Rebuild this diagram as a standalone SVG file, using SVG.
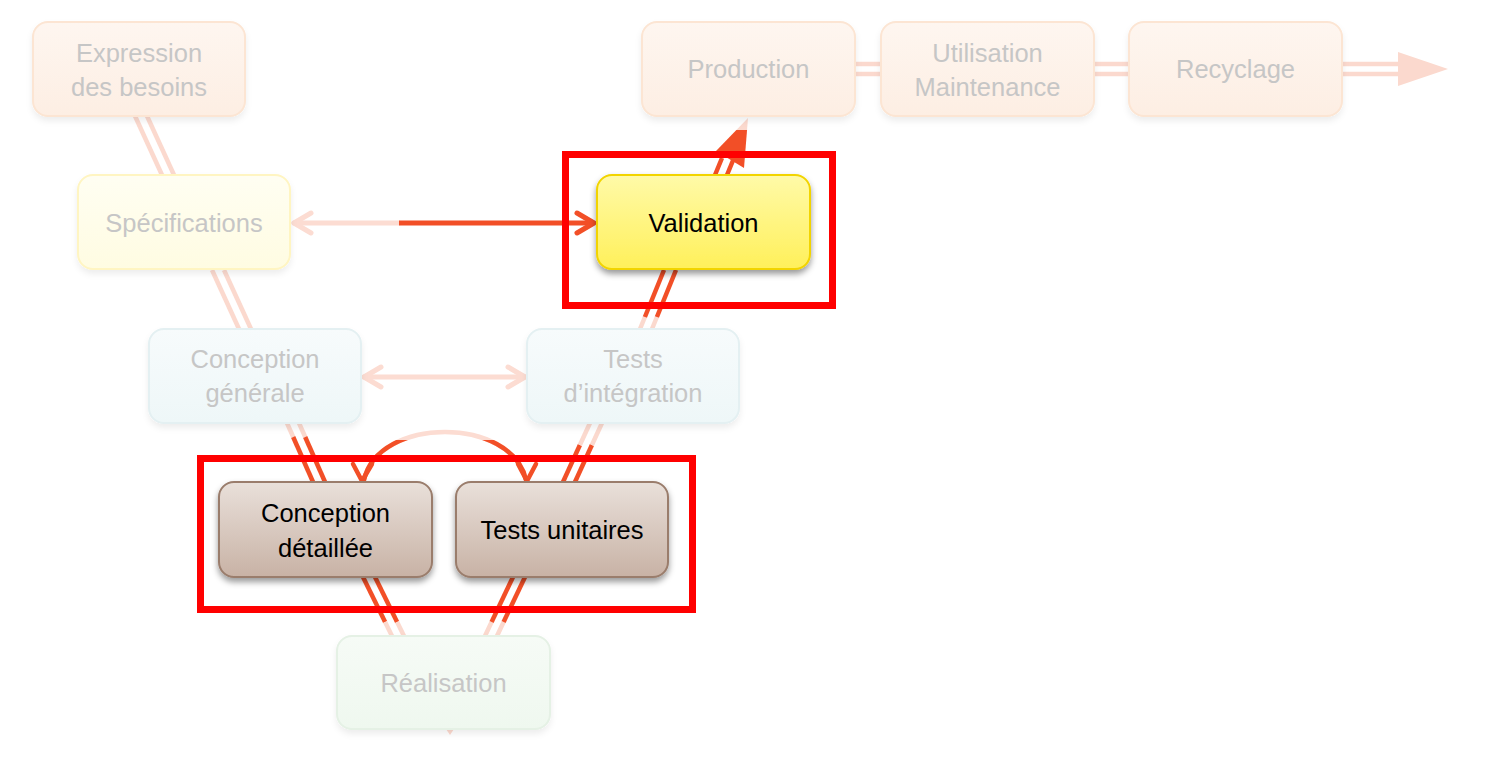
<svg xmlns="http://www.w3.org/2000/svg" width="1502" height="780" viewBox="0 0 1502 780">
<defs>
<linearGradient id="gPeach" x1="0" y1="0" x2="0" y2="1"><stop offset="0" stop-color="#fef6f0"/><stop offset="1" stop-color="#fdeee3"/></linearGradient>
<linearGradient id="gYelF" x1="0" y1="0" x2="0" y2="1"><stop offset="0" stop-color="#fffef2"/><stop offset="1" stop-color="#fffce2"/></linearGradient>
<linearGradient id="gBlue" x1="0" y1="0" x2="0" y2="1"><stop offset="0" stop-color="#f7fbfc"/><stop offset="1" stop-color="#eef7f8"/></linearGradient>
<linearGradient id="gGreen" x1="0" y1="0" x2="0" y2="1"><stop offset="0" stop-color="#f6fbf6"/><stop offset="1" stop-color="#eff8ef"/></linearGradient>
<linearGradient id="gYel" x1="0" y1="0" x2="0" y2="1"><stop offset="0" stop-color="#fffaa8"/><stop offset="1" stop-color="#fff05a"/></linearGradient>
<linearGradient id="gBrown" x1="0" y1="0" x2="0" y2="1"><stop offset="0" stop-color="#e9e0da"/><stop offset="1" stop-color="#c8b2a5"/></linearGradient>
<linearGradient id="gArrow" gradientUnits="userSpaceOnUse" x1="0" y1="118" x2="0" y2="168"><stop offset="0.24" stop-color="#fbd9ce"/><stop offset="0.24" stop-color="#f24f27"/></linearGradient>
<filter id="shF" x="-10%" y="-10%" width="120%" height="140%"><feDropShadow dx="0" dy="4" stdDeviation="3" flood-color="#000" flood-opacity="0.07"/></filter>
<filter id="shD" x="-10%" y="-10%" width="120%" height="140%"><feDropShadow dx="0" dy="4" stdDeviation="3" flood-color="#000" flood-opacity="0.4"/></filter>
<clipPath id="clipDark"><rect x="0" y="440" width="1502" height="60"/></clipPath>
</defs>
<style>
.lt{stroke:#fbd9ce;stroke-width:4.5;fill:none}
.dk{stroke:#f24f27;stroke-width:4.5;fill:none}
.ltc{stroke:#fcdcd2;stroke-width:5;fill:none;stroke-linecap:round;stroke-linejoin:round}
.dkc{stroke:#f24f27;stroke-width:5;fill:none;stroke-linecap:round;stroke-linejoin:round}
.nf{stroke-width:2;filter:url(#shF)}
.nd{stroke-width:2;filter:url(#shD)}
.tf{font-family:"Liberation Sans",Arial,sans-serif;font-size:25.5px;fill:#c6c6c6;text-anchor:middle}
.td{font-family:"Liberation Sans",Arial,sans-serif;font-size:25.5px;fill:#000;text-anchor:middle}
.hl{fill:none;stroke:#ff0000;stroke-width:7}
</style>

<g id="connectors">
<line class="lt" x1="135" y1="116" x2="162" y2="175"/><line class="lt" x1="147" y1="116" x2="174" y2="175"/>
<line class="lt" x1="212" y1="270" x2="239" y2="329"/><line class="lt" x1="224" y1="270" x2="251" y2="329"/>
<line class="lt" x1="287" y1="423" x2="293.2" y2="437"/><line class="lt" x1="299" y1="423" x2="305.2" y2="437"/>
<line class="dk" x1="293.2" y1="437" x2="313" y2="482"/><line class="dk" x1="305.2" y1="437" x2="325" y2="482"/>
<line class="dk" x1="363" y1="577" x2="385.1" y2="622"/><line class="dk" x1="375" y1="577" x2="397.1" y2="622"/>
<line class="lt" x1="385.1" y1="622" x2="392" y2="636"/><line class="lt" x1="397.1" y1="622" x2="404" y2="636"/>
<line class="lt" x1="485" y1="636" x2="491.6" y2="622"/><line class="lt" x1="497" y1="636" x2="503.6" y2="622"/>
<line class="dk" x1="491.6" y1="622" x2="513" y2="577"/><line class="dk" x1="503.6" y1="622" x2="525" y2="577"/>
<line class="dk" x1="563" y1="482" x2="579.9" y2="445"/><line class="dk" x1="575" y1="482" x2="591.9" y2="445"/>
<line class="lt" x1="579.9" y1="445" x2="590" y2="423"/><line class="lt" x1="591.9" y1="445" x2="602" y2="423"/>
<line class="lt" x1="640" y1="329" x2="644.9" y2="317"/><line class="lt" x1="652" y1="329" x2="656.9" y2="317"/>
<line class="dk" x1="644.9" y1="317" x2="664" y2="270"/><line class="dk" x1="656.9" y1="317" x2="676" y2="270"/>
<line class="dk" x1="715" y1="175" x2="722" y2="158"/><line class="dk" x1="727" y1="175" x2="734" y2="158"/>
<polygon points="748,118 744,168 716,151" fill="url(#gArrow)"/>
<polygon points="446,729 454,729 450,735" fill="#fcd9ce"/>
<line class="lt" x1="855" y1="64" x2="881" y2="64"/><line class="lt" x1="855" y1="74" x2="881" y2="74"/>
<line class="lt" x1="1094" y1="64" x2="1129" y2="64"/><line class="lt" x1="1094" y1="74" x2="1129" y2="74"/>
<line class="lt" x1="1342" y1="64" x2="1400" y2="64"/><line class="lt" x1="1342" y1="74" x2="1400" y2="74"/>
<polygon points="1398,52 1448,69 1398,86" fill="#fbd9ce"/>
<line class="ltc" x1="294" y1="223" x2="399" y2="223"/>
<polyline class="ltc" points="311,213 294,223 311,233"/>
<line class="dkc" x1="399" y1="223" x2="594" y2="223" style="stroke-linecap:butt"/>
<polyline class="dkc" points="577,213 594,223 577,233"/>
<line class="ltc" x1="364" y1="377" x2="525" y2="377"/>
<polyline class="ltc" points="381,367 364,377 381,387"/>
<polyline class="ltc" points="508,367 525,377 508,387"/>
<path class="ltc" d="M364,480 C378,416 512,416 526,480" style="stroke-width:4.5"/>
<path class="dkc" d="M364,480 C378,416 512,416 526,480" clip-path="url(#clipDark)" style="stroke-width:4.5"/>
<polyline class="dkc" points="353,464 362,481 372,464" style="stroke-width:4.5"/>
<polyline class="dkc" points="518,464 527,481 536,464" style="stroke-width:4.5"/>
</g>

<g id="n-expression"><rect class="nf" x="33" y="22" width="212" height="94" rx="15" fill="url(#gPeach)" stroke="#fce5d3"/><text class="tf" x="139" y="62">Expression</text><text class="tf" x="139" y="96">des besoins</text></g>
<g id="n-production"><rect class="nf" x="642" y="22" width="213" height="94" rx="15" fill="url(#gPeach)" stroke="#fce5d3"/><text class="tf" x="748.5" y="78">Production</text></g>
<g id="n-utilisation"><rect class="nf" x="881" y="22" width="213" height="94" rx="15" fill="url(#gPeach)" stroke="#fce5d3"/><text class="tf" x="987.5" y="62">Utilisation</text><text class="tf" x="987.5" y="96">Maintenance</text></g>
<g id="n-recyclage"><rect class="nf" x="1129" y="22" width="213" height="94" rx="15" fill="url(#gPeach)" stroke="#fce5d3"/><text class="tf" x="1235.5" y="78">Recyclage</text></g>
<g id="n-specifications"><rect class="nf" x="78" y="175" width="212" height="94" rx="15" fill="url(#gYelF)" stroke="#fff5c2"/><text class="tf" x="184" y="232">Spécifications</text></g>
<g id="n-validation"><rect class="nd" x="597" y="175" width="213" height="94" rx="15" fill="url(#gYel)" stroke="#f2d400"/><text class="td" x="703.5" y="232">Validation</text></g>
<g id="n-conception-generale"><rect class="nf" x="149" y="329" width="212" height="94" rx="15" fill="url(#gBlue)" stroke="#e4f0f2"/><text class="tf" x="255" y="368">Conception</text><text class="tf" x="255" y="402">générale</text></g>
<g id="n-tests-integration"><rect class="nf" x="527" y="329" width="212" height="94" rx="15" fill="url(#gBlue)" stroke="#e4f0f2"/><text class="tf" x="633" y="368">Tests</text><text class="tf" x="633" y="402">d’intégration</text></g>
<g id="n-conception-detaillee"><rect class="nd" x="219" y="482" width="213" height="95" rx="15" fill="url(#gBrown)" stroke="#9a7d6c"/><text class="td" x="325.5" y="522">Conception</text><text class="td" x="325.5" y="557">détaillée</text></g>
<g id="n-tests-unitaires"><rect class="nd" x="456" y="482" width="212" height="95" rx="15" fill="url(#gBrown)" stroke="#9a7d6c"/><text class="td" x="562" y="539">Tests unitaires</text></g>
<g id="n-realisation"><rect class="nf" x="337" y="636" width="213" height="93" rx="15" fill="url(#gGreen)" stroke="#e5f1e5"/><text class="tf" x="443.5" y="692">Réalisation</text></g>

<g id="highlights">
<rect class="hl" x="565.5" y="154.5" width="267" height="151"/>
<rect class="hl" x="200.5" y="458.5" width="492" height="151"/>
</g>
</svg>
